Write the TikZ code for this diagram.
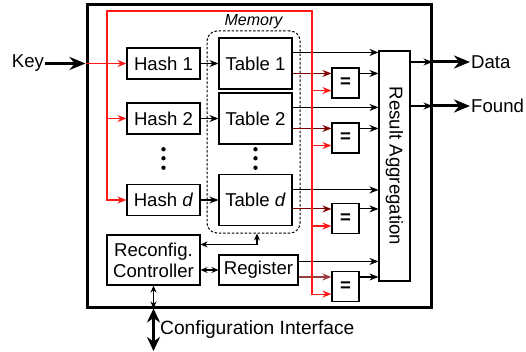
\documentclass[tikz,border=0pt]{standalone}
\usepackage{fontspec}
\setmainfont{Liberation Sans}
\usetikzlibrary{positioning,arrows.meta,calc}
\definecolor{keyred}{HTML}{FF1A1A}
\definecolor{hitred}{HTML}{800000}
\definecolor{regred}{HTML}{9C3E3E}
\newcommand{\bigfont}{\fontsize{18.6}{21}\selectfont}
\tikzset{
  blk/.style     = {rectangle, draw, line width=1.1pt, inner sep=0pt, align=center, font=\bigfont},
  eqbox/.style   = {blk, minimum width=27pt, minimum height=30pt, font=\bigfont\bfseries},
  chip/.style    = {rectangle, draw, line width=3pt, inner sep=0pt},
  memory/.style  = {rectangle, draw, dash pattern=on 2.5pt off 1.8pt, line width=1pt,
                    rounded corners=10pt, inner sep=0pt},
  sig/.style     = {-{Stealth[length=9pt,width=7pt]}, line width=1.1pt},
  both/.style    = {{Stealth[length=7pt,width=6pt]}-{Stealth[length=7pt,width=6pt]}, line width=1.1pt},
  keyline/.style = {-{Stealth[length=9pt,width=7pt]}, line width=1.1pt, draw=keyred},
  hitline/.style = {-{Stealth[length=9pt,width=7pt]}, line width=1.1pt, draw=#1},
  hitline/.default = hitred,
  port/.style    = {-{Stealth[length=16pt,width=13pt]}, line width=3pt},
  cfgport/.style = {{Stealth[length=14pt,width=13pt]}-{Stealth[length=14pt,width=13pt]}, line width=3.2pt},
  txt/.style     = {inner sep=1pt, font=\bigfont},
}

\begin{document}
\begin{tikzpicture}[x=1pt, y=-1pt]
  \useasboundingbox (0,0) rectangle (526,352);
  \node[chip, minimum width=344pt, minimum height=302pt] (chip) at (259,156) {};
  \node[memory, minimum width=93pt, minimum height=202pt] (mem) at (253.5,132) {};
  \node[txt, above=0pt of mem, font=\fontsize{16}{18}\selectfont\itshape] (memtxt) {Memory};

  \foreach \n/\lbl/\y in {1/1/63.5, 2/2/118.5, d/{\textit{d}}/200} {
    \node[blk, minimum width=73pt, minimum height=31pt] (h\n) at (163.5,\y) {Hash \lbl};
    \node[blk, minimum width=73pt, minimum height=51pt] (t\n) at (255.5,\y) {Table \lbl};
    \draw[sig] (h\n) -- (t\n);
  }
  \node[blk, minimum width=93pt, minimum height=50pt] (ctl) at (153.5,260) {Reconfig.\\Controller};
  \node[blk, minimum width=79pt, minimum height=30pt] (reg) at (258.5,270) {Register};
  \node[blk, minimum width=31pt, minimum height=230pt] (ra) at (394.5,166) {\rotatebox{-90}{Result Aggregation}};
  \foreach \i/\y in {1/83, 2/138, 3/218.5, 4/286.5}
    \node[eqbox] (eq\i) at (345.5,\y) {=};

  % vertical dots
  \foreach \dy in {-10,-1,8.5} {
    \fill ($(h2.south)!0.5!(hd.north)+(0,\dy)$) circle (2.2pt);
    \fill ($(t2.south)!0.5!(td.north)+(0,\dy)$) circle (2.2pt);
  }

  % table/register outputs
  \foreach \s/\i/\off/\c in {t1/1/15/hitred, t2/2/15/hitred, td/3/16/hitred, reg/4/7/regred} {
    \coordinate (din\i) at ([yshift=-6pt]eq\i.north west);
    \coordinate (rin\i) at ([yshift=8pt]eq\i.south west);
    \draw[sig] ([yshift=-\off pt]\s.north east) coordinate (b\i) -- (b\i -| ra.west);
    \draw[hitline=\c] (\s.east |- din\i) -- (din\i);
    \draw[sig] (din\i -| eq\i.east) -- (din\i -| ra.west);
  }

  % key distribution
  \node[txt] (key) at (28,63.5) {Key};
  \draw[port] (key.east) -- (key -| chip.west);
  \coordinate (rl) at (107,11);
  \coordinate (rr) at (312,11);
  \draw[keyline] (key -| chip.west) -- (h1.west);
  \draw[keyline, {Stealth[length=9pt,width=7pt]}-{Stealth[length=9pt,width=7pt]}]
    (hd.west) -| (rl) -- (rr) |- (rin4);
  \draw[keyline] (rl |- h2.west) -- (h2.west);
  \foreach \i in {1,2,3}
    \draw[keyline] (rr |- rin\i) -- (rin\i);

  % outputs
  \node[txt, anchor=west] (data) at (470,62) {Data};
  \node[txt, anchor=west] (found) at (470,106) {Found};
  \foreach \o in {data, found} {
    \draw[sig] (\o -| ra.east) -- (\o -| chip.east);
    \draw[port] (\o -| chip.east) -- (\o.west);
  }

  % configuration
  \coordinate (mtap) at ([xshift=3.5pt]mem.south);
  \draw[both] ([yshift=-10pt]ctl.north east) -| (mtap);
  \draw[both] (ctl.east |- reg) -- (reg.west);
  \draw[both] (ctl.south) -- (ctl.south |- chip.south);
  \coordinate (cfg) at (153.5,351);
  \draw[cfgport] (ctl.south |- chip.south) -- (cfg);
  \node[txt, anchor=west, font=\fontsize{19.2}{22}\selectfont] (cfgtxt) at (159,330) {Configuration Interface};
\end{tikzpicture}
\end{document}
